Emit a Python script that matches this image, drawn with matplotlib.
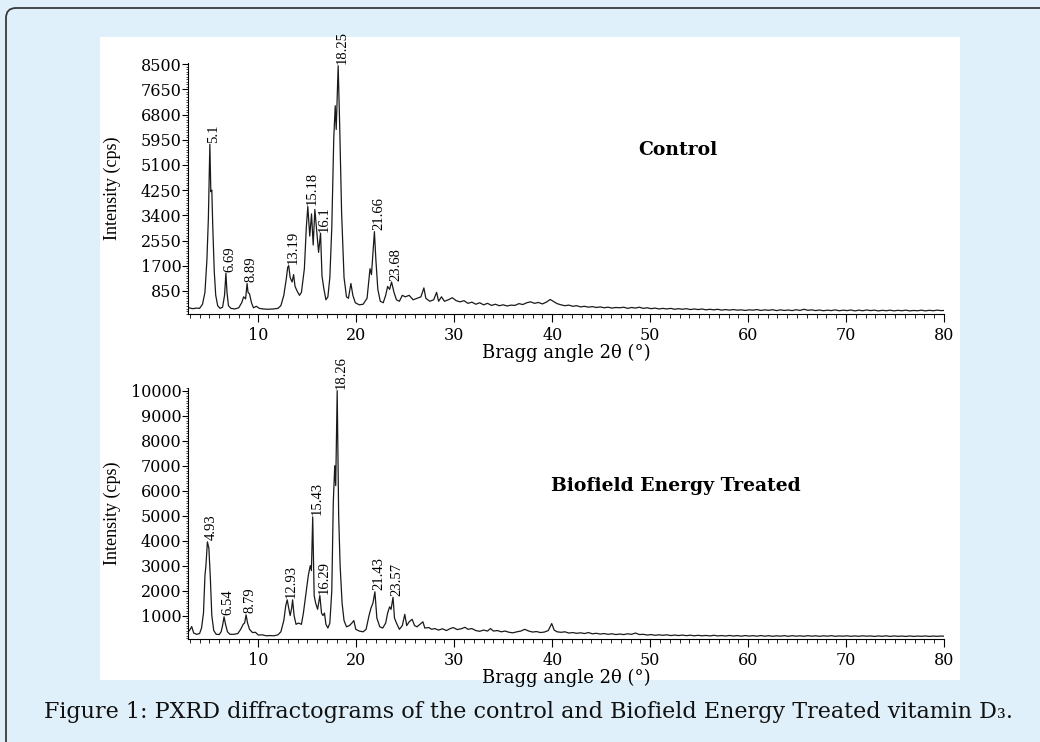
"""
plot.py
PXRD diffractograms: control vs Biofield Energy Treated vitamin D3.
"""

import matplotlib
matplotlib.use("Agg")
import matplotlib.pyplot as plt
from matplotlib.patches import FancyBboxPatch, Rectangle
from matplotlib.ticker import MultipleLocator, AutoMinorLocator

# ---- Control pattern (2theta, counts)
control_2theta = [
    2.9, 3.3, 3.7, 4.0, 4.3, 4.55, 4.75, 4.9, 5.05, 5.15, 5.25, 5.35, 5.5, 5.65, 5.85,
    6.1, 6.35, 6.55, 6.69, 6.8, 6.95, 7.2, 7.6, 8.0, 8.3, 8.5, 8.7, 8.85, 8.95, 9.1,
    9.3, 9.5, 9.8, 10.1, 10.5, 11.0, 11.5, 12.0, 12.3, 12.6, 12.85, 13.0, 13.1, 13.25,
    13.45, 13.6, 13.75, 13.95, 14.2, 14.4, 14.7, 14.9, 15.05, 15.25, 15.43, 15.6, 15.77,
    15.95, 16.15, 16.35, 16.5, 16.7, 16.9, 17.1, 17.3, 17.5, 17.7, 17.85, 17.95, 18.15,
    18.3, 18.5, 18.75, 19.0, 19.2, 19.45, 19.65, 19.9, 20.3, 20.7, 21.1, 21.4, 21.55,
    21.85, 22.0, 22.2, 22.45, 22.75, 23.0, 23.2, 23.4, 23.6, 23.85, 24.1, 24.4, 24.7,
    25.0, 25.4, 25.8, 26.2, 26.6, 26.9, 27.1, 27.5, 27.9, 28.2, 28.4, 28.7, 29.0, 29.4,
    29.8, 30.2, 30.6, 31.0, 31.4, 31.8, 32.2, 32.6, 33.0, 33.4, 33.8, 34.2, 34.6, 35.0,
    35.4, 35.8, 36.2, 36.6, 37.0, 37.4, 37.8, 38.2, 38.6, 39.0, 39.4, 39.8, 40.1, 40.5,
    40.9, 41.3, 41.7, 42.1, 42.5, 42.9, 43.3, 43.7, 44.1, 44.5, 44.9, 45.3, 45.7, 46.1,
    46.5, 46.9, 47.3, 47.7, 48.1, 48.5, 48.9, 49.3, 49.7, 50.1, 50.5, 50.9, 51.3, 51.7,
    52.1, 52.5, 52.9, 53.3, 53.7, 54.1, 54.5, 54.9, 55.3, 55.7, 56.1, 56.5, 56.9, 57.3,
    57.7, 58.1, 58.5, 58.9, 59.3, 59.7, 60.1, 60.5, 60.9, 61.3, 61.7, 62.1, 62.5, 62.9,
    63.3, 63.7, 64.1, 64.5, 64.9, 65.3, 65.7, 66.1, 66.5, 66.9, 67.3, 67.7, 68.1, 68.5,
    68.9, 69.3, 69.7, 70.1, 70.5, 70.9, 71.3, 71.7, 72.1, 72.5, 72.9, 73.3, 73.7, 74.1,
    74.5, 74.9, 75.3, 75.7, 76.1, 76.5, 76.9, 77.3, 77.7, 78.1, 78.5, 78.9, 79.3, 79.7,
    80.0,
]
control_counts = [
    280, 250, 270, 260, 400, 800, 1900, 3300, 5800, 4200, 4250, 3000, 1500, 700, 350,
    260, 300, 700, 1450, 800, 350, 260, 240, 280, 450, 650, 580, 1100, 800, 750,
    450, 280, 330, 260, 240, 230, 240, 260, 350, 700, 1250, 1650, 1700, 1300,
    1150, 1400, 1000, 850, 700, 800, 1600, 3000, 3700, 2700, 3450, 2400, 3600,
    2900, 2150, 2800, 1350, 900, 550, 650, 1300, 3000, 6000, 7100, 6300, 8450,
    6500, 3500, 1300, 650, 600, 1100, 700, 450, 380, 400, 600, 1600, 1400,
    2850, 1900, 900, 500, 450, 700, 1000, 900, 1150, 800, 550, 500, 700,
    650, 700, 550, 600, 650, 950, 600, 500, 550, 800, 500, 650, 500, 550,
    620, 520, 480, 520, 430, 470, 400, 450, 380, 430, 360, 400, 350, 380,
    340, 370, 360, 420, 390, 450, 480, 430, 460, 410, 470, 560, 500, 420,
    380, 350, 370, 330, 350, 310, 330, 300, 320, 290, 310, 280, 300, 270,
    290, 280, 300, 260, 290, 270, 300, 260, 280, 250, 270, 240, 260, 240,
    260, 230, 250, 230, 250, 220, 240, 220, 240, 210, 230, 210, 230, 200,
    220, 200, 220, 200, 210, 190, 210, 200, 220, 190, 210, 195, 215, 185,
    210, 190, 205, 185, 215, 190, 230, 195, 210, 185, 205, 180, 200, 185,
    210, 180, 200, 185, 205, 175, 200, 180, 205, 185, 200, 175, 195, 180,
    200, 175, 195, 180, 200, 175, 190, 180, 200, 175, 195, 180, 200, 185,
    190,
]

# ---- Treated pattern (2theta, counts)
treated_2theta = [
    2.85, 3.0, 3.2, 3.4, 3.7, 4.0, 4.2, 4.4, 4.55, 4.65, 4.8, 4.95, 5.1, 5.25, 5.45,
    5.7, 6.0, 6.2, 6.35, 6.5, 6.65, 6.85, 7.1, 7.5, 7.9, 8.2, 8.45, 8.6, 8.75, 8.9,
    9.1, 9.4, 9.7, 10.0, 10.4, 10.8, 11.2, 11.6, 12.0, 12.3, 12.6, 12.8, 12.95, 13.1,
    13.25, 13.4, 13.5, 13.65, 13.85, 14.1, 14.4, 14.6, 14.9, 15.1, 15.3, 15.42, 15.55,
    15.7, 15.85, 16.05, 16.28, 16.45, 16.6, 16.75, 16.9, 17.1, 17.3, 17.5, 17.65, 17.8,
    17.9, 18.05, 18.2, 18.35, 18.55, 18.75, 19.0, 19.3, 19.55, 19.75, 19.95, 20.3,
    20.7, 21.0, 21.3, 21.5, 21.7, 21.9, 22.1, 22.4, 22.7, 23.0, 23.2, 23.4, 23.55,
    23.75, 23.9, 24.1, 24.4, 24.7, 24.95, 25.15, 25.4, 25.7, 25.95, 26.2, 26.5, 26.8,
    27.0, 27.4, 27.7, 28.0, 28.4, 28.8, 29.2, 29.6, 29.9, 30.3, 30.7, 31.1, 31.4, 31.8,
    32.2, 32.6, 33.0, 33.4, 33.7, 34.0, 34.4, 34.8, 35.2, 35.6, 36.0, 36.4, 36.8, 37.2,
    37.6, 38.0, 38.4, 38.8, 39.2, 39.6, 39.95, 40.2, 40.5, 40.9, 41.3, 41.7, 42.1, 42.5,
    42.9, 43.3, 43.7, 44.1, 44.5, 44.9, 45.3, 45.7, 46.1, 46.5, 46.9, 47.3, 47.7, 48.1,
    48.5, 48.9, 49.3, 49.7, 50.1, 50.5, 50.9, 51.3, 51.7, 52.1, 52.5, 52.9, 53.3, 53.7,
    54.1, 54.5, 54.9, 55.3, 55.7, 56.1, 56.5, 56.9, 57.3, 57.7, 58.1, 58.5, 58.9, 59.3,
    59.7, 60.1, 60.5, 60.9, 61.3, 61.7, 62.1, 62.5, 62.9, 63.3, 63.7, 64.1, 64.5, 64.9,
    65.3, 65.7, 66.1, 66.5, 66.9, 67.3, 67.7, 68.1, 68.5, 68.9, 69.3, 69.7, 70.1, 70.5,
    70.9, 71.3, 71.7, 72.1, 72.5, 72.9, 73.3, 73.7, 74.1, 74.5, 74.9, 75.3, 75.7, 76.1,
    76.5, 76.9, 77.3, 77.7, 78.1, 78.5, 78.9, 79.3, 79.7, 80.0,
]
treated_counts = [
    360, 420, 560, 300, 250, 280, 500, 1100, 2600, 3000, 3950, 3700, 2500, 1000, 400,
    250, 240, 350, 600, 950, 650, 350, 250, 250, 280, 450, 650, 700, 1030, 700,
    450, 320, 330, 220, 230, 190, 200, 190, 230, 350, 800, 1400, 1630, 1300,
    1000, 1300, 1630, 1000, 650, 700, 650, 1100, 2000, 2600, 3000, 2800, 4950,
    1800, 1500, 1250, 1800, 1100, 1000, 1100, 650, 500, 700, 2000, 5500, 7000,
    6200, 10000, 5000, 3000, 1500, 800, 550, 600, 700, 800, 450, 380,
    350, 450, 1000, 1300, 1500, 1950, 900, 550, 500, 700, 1100, 1350, 1250,
    1730, 900, 700, 450, 600, 1050, 600, 750, 850, 600, 550, 650, 750,
    500, 520, 450, 480, 420, 470, 400, 480, 520, 440, 470, 530, 450, 480,
    400, 370, 420, 380, 480, 380, 400, 350, 380, 330, 310, 350, 380, 450,
    380, 340, 360, 320, 340, 400, 680, 420, 350, 330, 350, 300, 320, 290,
    310, 280, 320, 270, 290, 260, 280, 250, 270, 240, 260, 240, 270, 250,
    300, 240, 250, 220, 240, 210, 230, 210, 230, 200, 220, 200, 220, 195,
    215, 190, 210, 190, 205, 185, 210, 185, 200, 180, 205, 180, 200, 175,
    200, 180, 195, 175, 200, 175, 195, 170, 190, 175, 195, 170, 195, 175,
    190, 170, 195, 175, 190, 170, 190, 175, 195, 170, 185, 175, 190, 170,
    185, 170, 190, 175, 185, 165, 185, 170, 190, 165, 185, 170, 180, 165,
    185, 165, 180, 170, 185, 165, 180, 170, 180, 175,
]

# ---- peak annotations: text, 2theta, counts at peak top
control_labels = ["5.1", "6.69", "8.89", "13.19", "15.18", "16.1", "18.25", "21.66", "23.68"]
control_label_x = [5.05, 6.69, 8.85, 13.1, 15.05, 16.35, 18.15, 21.85, 23.6]
control_label_y = [5800, 1450, 1100, 1700, 3700, 2800, 8450, 2850, 1150]

treated_labels = ["4.93", "6.54", "8.79", "12.93", "15.43", "16.29", "18.26", "21.43", "23.57"]
treated_label_x = [4.8, 6.5, 8.75, 12.95, 15.55, 16.28, 18.05, 21.9, 23.75]
treated_label_y = [3950, 950, 1030, 1630, 4950, 1800, 10000, 1950, 1730]

control_yticks = [850, 1700, 2550, 3400, 4250, 5100, 5950, 6800, 7650, 8500]
treated_yticks = [1000, 2000, 3000, 4000, 5000, 6000, 7000, 8000, 9000, 10000]
x_ticks = [10, 20, 30, 40, 50, 60, 70, 80]

W, H = 1040, 742
BLUE = "#dff0fa"
TICK_FONT = "DejaVu Serif"
TIMES = "Liberation Serif"

fig = plt.figure(figsize=(W / 100, H / 100), dpi=100)
fig.patch.set_facecolor(BLUE)

# page decoration in pixel coordinates
bg = fig.add_axes([0, 0, 1, 1], zorder=-5)
bg.set_xlim(0, W)
bg.set_ylim(H, 0)
bg.axis("off")
bg.add_patch(FancyBboxPatch((6, 8), 1100, 800, boxstyle="round,pad=0,rounding_size=10",
                            facecolor=BLUE, edgecolor="#3a3a3a", linewidth=1.3))
bg.add_patch(Rectangle((100, 37), 860, 643, facecolor="white", edgecolor="none"))
bg.text(528, 712, "Figure 1: PXRD diffractograms of the control and Biofield Energy Treated vitamin D\u2083.",
        ha="center", va="center", fontsize=16, family=["DejaVu Serif"], color="#111111")


def pix_axes(left, right, bottom, top):
    return fig.add_axes([left / W, 1 - bottom / H, (right - left) / W, (bottom - top) / H])


def draw_panel(ax, x, y, ylim, yticks, labels, lx, ly, title, title_xy):
    ax.set_facecolor("none")
    ax.plot(x, y, color="#1a1a1a", linewidth=0.9)
    ax.set_xlim(2.85, 80)
    ax.set_ylim(*ylim)
    for s in ("top", "right"):
        ax.spines[s].set_visible(False)
    for s in ("left", "bottom"):
        ax.spines[s].set_linewidth(0.8)
    ax.set_xticks(x_ticks)
    ax.xaxis.set_minor_locator(MultipleLocator(1))
    ax.set_yticks(yticks)
    ax.yaxis.set_minor_locator(AutoMinorLocator(10))
    ax.tick_params(axis="x", which="major", length=6, width=0.8, pad=3)
    ax.tick_params(axis="x", which="minor", length=3, width=0.6)
    ax.tick_params(axis="y", which="major", length=4, width=0.8, pad=1)
    ax.tick_params(axis="y", which="minor", length=1.5, width=0.5)
    for lab in ax.get_xticklabels() + ax.get_yticklabels():
        lab.set_family(TICK_FONT)
        lab.set_fontsize(11.5)
    ax.set_xlabel("Bragg angle 2\u03b8 (\u00b0)", family=TICK_FONT, fontsize=13, labelpad=0)
    ax.set_ylabel("Intensity (cps)", family=TIMES, fontsize=13)
    ax.yaxis.set_label_coords((121 - 188.3) / (944 - 188.3), 0.5)
    for t, px_, py_ in zip(labels, lx, ly):
        ax.annotate(t, (px_, py_), xytext=(3, 1), textcoords="offset points",
                    rotation=90, ha="center", va="bottom", family=TIMES,
                    fontsize=10.5, annotation_clip=False)
    ax.text(title_xy[0], title_xy[1], title, transform=ax.transAxes, ha="center",
            va="center", family=TICK_FONT, fontweight="bold", fontsize=13.5)


ax1 = pix_axes(188.3, 944, 314.3, 62.5)
draw_panel(ax1, control_2theta, control_counts, (60, 8560), control_yticks,
           control_labels, control_label_x, control_label_y, "Control",
           ((678 - 188.3) / (944 - 188.3), (314.3 - 150) / (314.3 - 62.5)))

ax2 = pix_axes(188.3, 944, 639.3, 387.7)
draw_panel(ax2, treated_2theta, treated_counts, (50, 10120), treated_yticks,
           treated_labels, treated_label_x, treated_label_y, "Biofield Energy Treated",
           ((676 - 188.3) / (944 - 188.3), (639.3 - 486) / (639.3 - 387.7)))

fig.savefig("out.png", dpi=100, facecolor=fig.get_facecolor())
